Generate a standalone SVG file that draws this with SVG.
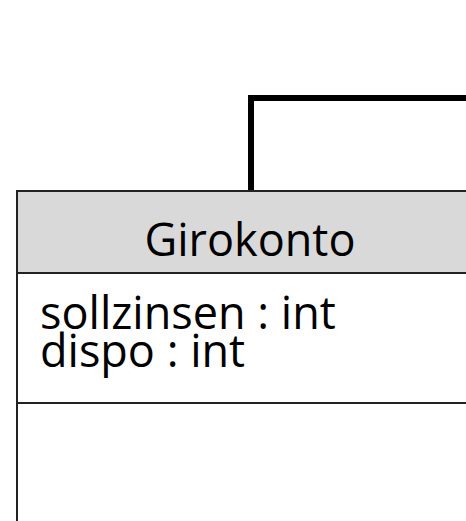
<svg xmlns="http://www.w3.org/2000/svg" width="466" height="521" viewBox="0 0 466 521">
<style>
.box{fill:#ffffff;stroke:#222222;stroke-width:2}
.hdr{fill:#d9d9d9;stroke:#222222;stroke-width:2}
.sep{stroke:#222222;stroke-width:2}
.t{font-family:"Open Sans","Noto Sans",sans-serif;font-size:45px;fill:#000000}
.conn{fill:none;stroke:#000000;stroke-width:6}
</style>
<rect width="466" height="521" fill="#ffffff"/>
<g id="connectors">
<path class="conn" d="M251,191 V98 H470"/>
</g>
<g id="Girokonto">
<rect class="box" x="17" y="191" width="470" height="350"/>
<rect class="hdr" x="17" y="191" width="470" height="82"/>
<line class="sep" x1="17" y1="403" x2="470" y2="403"/>
<text class="t" x="250" y="256" text-anchor="middle">Girokonto</text>
<text class="t" x="40" y="329">sollzinsen : int</text>
<text class="t" x="40" y="367">dispo : int</text>
</g>
</svg>
